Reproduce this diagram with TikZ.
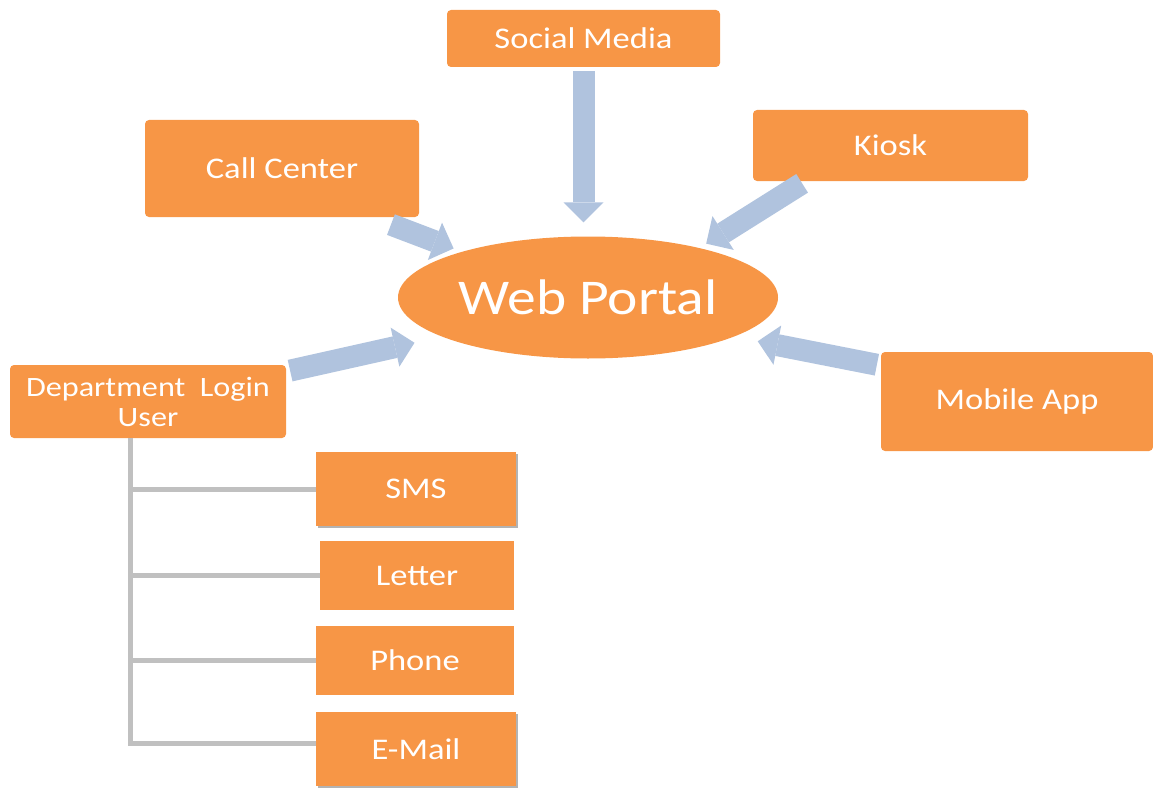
\documentclass[tikz,border=0pt]{standalone}
\usepackage{fontspec}
\setmainfont{Carlito}[FakeStretch=1.15]
\usetikzlibrary{shapes.geometric}
\usetikzlibrary{arrows.meta}
\usetikzlibrary{shadows}

\definecolor{boxorange}{RGB}{247,150,70}
\definecolor{flowblue}{RGB}{176,195,222}
\definecolor{branchgray}{RGB}{192,192,192}

\begin{document}
\begin{tikzpicture}[x=1pt,y=-1pt,
	box/.style={rectangle,fill=boxorange,rounded corners=4pt,text=white,inner sep=0pt,font=\fontsize{30}{36}\selectfont},
	channel/.style={box,rounded corners=0pt,minimum width=198pt,minimum height=70pt},
	shade/.style={drop shadow={shadow xshift=2pt,shadow yshift=-2pt,fill=gray,opacity=0.6}},
	flow/.style={draw=flowblue,line width=22pt,-{Triangle[length=20pt,width=40pt,line width=0pt]},shorten <=4pt},
	branch/.style={draw=branchgray,line width=5pt}]
	\useasboundingbox (0,0) rectangle (1153,789);
	% sources around the portal
	\path (583.5,38.5) node(social)[box,minimum width=273pt,minimum height=57pt]{Social Media}
	(282,168.5) node(call)[box,minimum width=274pt,minimum height=97pt]{Call Center}
	(890.5,145.5) node(kiosk)[box,minimum width=275pt,minimum height=71pt]{Kiosk}
	(148,401.5) node(dept)[box,minimum width=276pt,minimum height=73pt,align=center,font=\fontsize{28}{30}\selectfont]{Department\ \ Login\\User}
	(1017,401.5) node(mobile)[box,minimum width=272pt,minimum height=99pt]{Mobile App}
	(588,297.5) node(portal)[ellipse,fill=boxorange,text=white,inner sep=0pt,minimum width=380pt,minimum height=122pt,font=\fontsize{50}{60}\selectfont]{Web Portal};
	% channels of the department user
	\path (416,489) node(sms)[channel,shade,minimum width=200pt,minimum height=74pt]{SMS}
	(417,575.5) node(letter)[channel,minimum width=194pt,minimum height=69pt]{Letter}
	(415,660.5) node(phone)[channel,minimum height=69pt]{Phone}
	(416,749) node(email)[channel,shade,minimum width=200pt,minimum height=74pt]{E-Mail};
	\draw[flow,shorten >=14pt](social.south)--(social.south |- portal.north);
	\draw[flow,shorten >=9pt]([xshift=-32pt,yshift=-6pt]call.south east)--(portal.160);
	\draw[flow,shorten >=8pt]([xshift=-85pt]kiosk.south)--(portal.24);
	\draw[flow,shorten >=28pt]([yshift=30pt]dept.east)--(portal.195);
	\draw[flow,shorten >=24pt]([yshift=36pt]mobile.west)--(portal.-15);
	\coordinate (trunk) at ([xshift=121pt]dept.south west);
	\draw[branch](trunk)|-([yshift=6pt]email.west);
	\draw[branch](sms.west)--(sms.west -| trunk);
	\draw[branch](letter.west)--(letter.west -| trunk);
	\draw[branch](phone.west)--(phone.west -| trunk);
\end{tikzpicture}
\end{document}
